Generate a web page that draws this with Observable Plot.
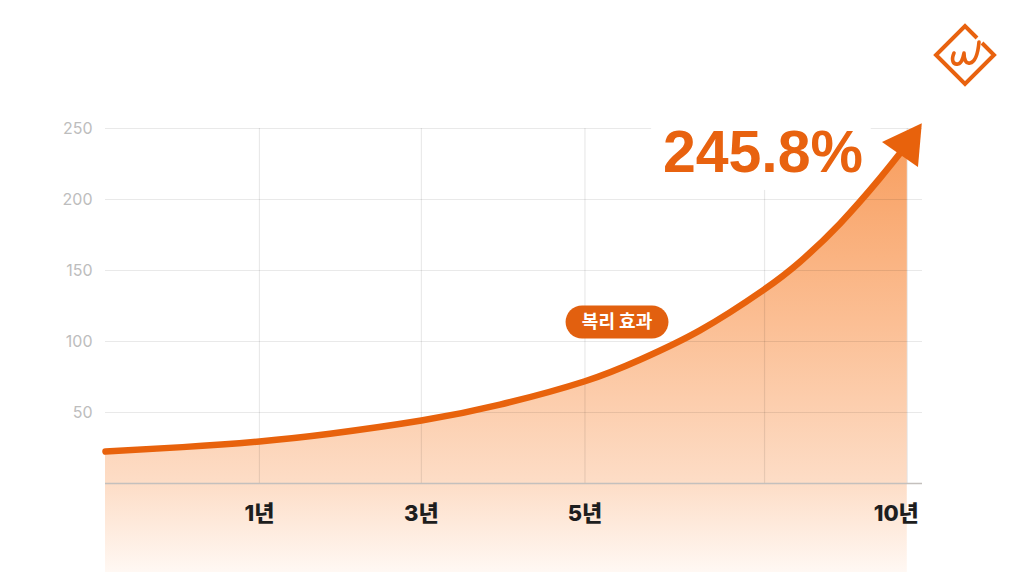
<!DOCTYPE html>
<html><head><meta charset="utf-8">
<script src="https://cdn.jsdelivr.net/npm/d3@7"></script>
<script src="https://cdn.jsdelivr.net/npm/@observablehq/plot@0.6"></script>
<style>
html,body{margin:0;padding:0;background:#fff;}
#wrap{position:relative;width:1024px;height:572px;overflow:hidden;background:#fff;}
#logo{position:absolute;left:932px;top:22px;}
</style></head><body>
<div id="wrap"><div id="chart"></div>
<svg id="logo" width="66" height="66" viewBox="0 0 66 66">
  <path d="M50,21 L62,33 L33,62 L4,33 L33,4 L45,16" fill="none" stroke="#e8620f" stroke-width="4" stroke-linejoin="miter"/>
  <path d="M22,31 C19,38 21,43 26,42 C30,41 31,36 32,31 C32,38 34,42 38,41 C43,40 46,31 47,20" fill="none" stroke="#e8620f" stroke-width="3.6" stroke-linecap="round" stroke-linejoin="round"/>
</svg>
</div>
<script>
// growth curve, x in evenly spaced "slot" units (0 = start, 5 = 10년)
const slots  = [0, 0.48, 0.96, 1.40, 1.97, 2.46, 2.99, 3.34, 3.71, 4.10, 4.33, 4.58, 4.83, 5.0];
const values = [22.5, 25.6, 29.6, 35, 44.3, 55.5, 72, 87.5, 108, 136, 156, 183, 215, 239];
const yTicks = [50, 100, 150, 200, 250];
const xTickSlots = [0.96, 1.97, 2.99, 4.11, 5.0];
const xTickLabels = ["1년", "3년", "5년", "", "10년"];
const headline = "245.8%";
const headlineAt = {s: 4.10, v: 219.7};
const badge = "복리 효과";
const badgeAt = {s: 3.19, v: 113.7};

const curve = slots.map((s, i) => ({s, v: values[i]}));
const tip = curve[curve.length - 1];
const xLabels = xTickSlots.map((s, i) => ({s, label: xTickLabels[i]})).filter(d => d.label);
const lastLabel = xLabels[xLabels.length - 1];
const otherLabels = xLabels.slice(0, -1);

const orange = "#e8620c";
const yBottom = -62.7;

const defs = () => {
  const g = document.createElementNS("http://www.w3.org/2000/svg", "defs");
  g.innerHTML = `<linearGradient id="areaGrad" gradientUnits="userSpaceOnUse" x1="0" y1="150" x2="0" y2="572">
    <stop offset="0" stop-color="#f8a062"/>
    <stop offset="0.4" stop-color="#fbbe93"/>
    <stop offset="0.78" stop-color="#fddcc5"/>
    <stop offset="1" stop-color="#fff8f3"/>
  </linearGradient>`;
  return g;
};

const labelFont = "Inter, 'Noto Sans CJK KR', sans-serif";

const chart = Plot.plot({
  width: 1024, height: 572,
  marginLeft: 105, marginRight: 102, marginTop: 128, marginBottom: 0,
  x: {domain: [0, 5.095], axis: null},
  y: {domain: [yBottom, 250], axis: null},
  style: {background: "transparent", overflow: "visible", fontFamily: labelFont},
  marks: [
    defs,
    Plot.areaY(curve, {x: "s", y1: yBottom, y2: "v", fill: "url(#areaGrad)", curve: "natural"}),
    Plot.ruleY(yTicks, {stroke: "#000", strokeOpacity: 0.085, strokeWidth: 1.2}),
    Plot.ruleX(xTickSlots, {y1: 0, y2: 250, stroke: "#000", strokeOpacity: 0.085, strokeWidth: 1.2}),
    Plot.ruleY([0], {stroke: "#c4c0bd", strokeWidth: 1.6}),
    Plot.text([headline], {x: headlineAt.s, y: headlineAt.v, text: d => d, lineAnchor: "bottom",
      fontSize: 59, fontWeight: "bold", fontFamily: "'Liberation Sans', Arial, sans-serif",
      fill: "#e8620f", stroke: "white", strokeWidth: 36, strokeLinejoin: "round"}),
    Plot.line(curve, {x: "s", y: "v", stroke: orange, strokeWidth: 6.5, curve: "natural"}),
    Plot.dot([tip], {x: "s", y: "v", symbol: "triangle", r: 16.3, rotate: 35, fill: orange, stroke: "none"}),
    Plot.link([badgeAt], {x1: d => d.s - 0.218, x2: d => d.s + 0.218, y1: "v", y2: "v",
      stroke: "#e2600f", strokeWidth: 33, strokeLinecap: "round"}),
    Plot.text([badgeAt], {x: "s", y: "v", text: () => badge, fill: "white", fontSize: 18,
      fontWeight: "bold", fontFamily: "'Noto Sans CJK KR', sans-serif"}),
    Plot.text(yTicks, {x: 0, y: d => d, text: d => String(d), textAnchor: "end", dx: -13,
      fill: "#bdbdbd", fontSize: 16, fontFamily: labelFont}),
    Plot.text(otherLabels, {x: "s", y: 0, dy: 30, text: "label", fill: "#1e1e1e", fontSize: 22,
      fontWeight: 800, fontFamily: labelFont}),
    Plot.text([lastLabel], {x: "s", y: 0, dy: 30, dx: -11, text: "label", fill: "#1e1e1e", fontSize: 22,
      fontWeight: 800, fontFamily: labelFont})
  ]
});
document.getElementById("chart").appendChild(chart);
</script>
</body></html>
